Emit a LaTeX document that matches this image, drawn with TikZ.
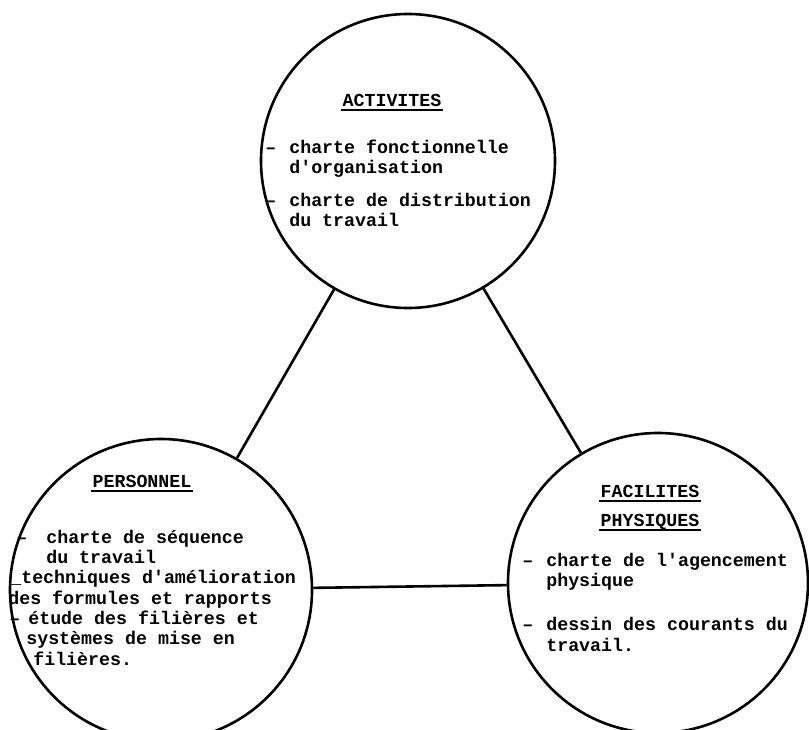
\documentclass[tikz,border=0pt]{standalone}
\usepackage{fontspec}
\setmonofont{Liberation Mono}
\newcommand\itm[1][13pt]{\llap{–\hspace*{#1}}}

\begin{document}
\begin{tikzpicture}[x=1pt, y=-1pt, line width=2.6pt,
    ring/.style={draw, circle, inner sep=0pt},
    head/.style={font=\ttfamily\bfseries\fontsize{18.3}{20}\selectfont, inner sep=0pt, anchor=base},
    body/.style={font=\ttfamily\bfseries\fontsize{18.3}{20.3}\selectfont, align=left, inner sep=0pt, anchor=base west},
    uline/.style={line width=2pt}]
  \useasboundingbox (0,0) rectangle (809,730);

  \node (ACT)  [ring, minimum size=294pt] at (408,161) {};
  \node (PERS) [ring, minimum size=302pt] at (161,590) {};
  \node (FAC)  [ring, minimum size=300pt] at (658,583) {};

  \path (ACT) edge (PERS);
  \path (ACT) edge (FAC);
  \path (PERS) edge (FAC);

  \node (ACTt) [head] at (392,107) {ACTIVITES};
  \draw[uline] ([yshift=-3.5pt]ACTt.base west) -- ([yshift=-3.5pt]ACTt.base east);
  \node (ACTb) [body] at (288,227) {\itm charte fonctionnelle\\d'organisation\\[13pt]
    \itm charte de distribution\\du travail};

  \node (PERSt) [head] at (142,487) {PERSONNEL};
  \draw[uline] ([yshift=-3.5pt]PERSt.base west) -- ([yshift=-3.5pt]PERSt.base east);
  \node (PERSb) [body] at (7,665) {\hspace*{38pt}\itm[19pt]charte de séquence\\
    \hspace*{38pt}du travail\\
    \hspace*{2pt}\_techniques d'amélioration\\
    des formules et rapports\\
    \hspace*{20pt}\itm[8pt]étude des filières et\\
    \hspace*{18pt}systèmes de mise en\\
    \hspace*{25pt}filières.};

  \node (FACt1) [head] at (650,497) {FACILITES};
  \draw[uline] ([yshift=-3.5pt]FACt1.base west) -- ([yshift=-3.5pt]FACt1.base east);
  \node (FACt2) [head] at (650,526) {PHYSIQUES};
  \draw[uline] ([yshift=-3.5pt]FACt2.base west) -- ([yshift=-3.5pt]FACt2.base east);
  \node (FACb) [body] at (545,651) {\itm charte de l'agencement\\physique\\[24pt]
    \itm dessin des courants du\\travail.};
\end{tikzpicture}
\end{document}
